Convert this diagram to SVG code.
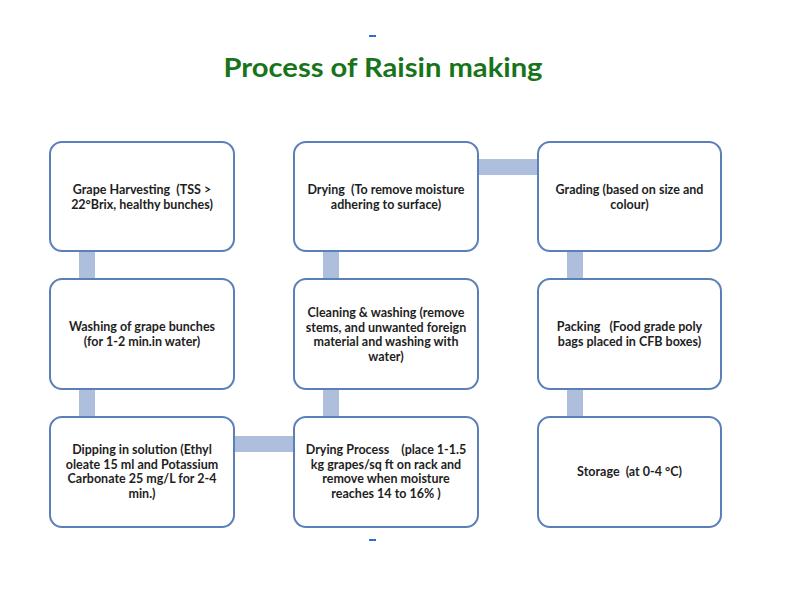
<svg xmlns="http://www.w3.org/2000/svg" width="800" height="600" viewBox="0 0 800 600">
<style>
.bar{fill:#adbfdd}
.box{fill:#ffffff;stroke:#5b80b8;stroke-width:2}
.t{font-family:Lato,"Liberation Sans",sans-serif;font-weight:bold;font-size:12.5px;fill:#1e1e1e;text-anchor:middle;white-space:pre}
.title{font-family:Lato,"Liberation Sans",sans-serif;font-weight:bold;font-size:27px;fill:#17741a;text-anchor:middle}
.dash{fill:#2f6fd0}
</style>
<rect width="800" height="600" fill="#ffffff"/>
<rect class="dash" x="369" y="35" width="7" height="2"/>
<rect class="dash" x="369" y="539" width="7" height="2"/>
<text class="title" x="383" y="77" textLength="319" lengthAdjust="spacingAndGlyphs">Process of Raisin making</text>
<g id="connectors">
<rect class="bar" x="79" y="250" width="16" height="30"/>
<rect class="bar" x="79" y="388" width="16" height="30"/>
<rect class="bar" x="233" y="436" width="62" height="16"/>
<rect class="bar" x="323" y="388" width="16" height="30"/>
<rect class="bar" x="323" y="250" width="16" height="30"/>
<rect class="bar" x="477" y="159" width="62" height="16"/>
<rect class="bar" x="567" y="250" width="16" height="30"/>
<rect class="bar" x="567" y="388" width="16" height="30"/>
</g>
<g id="n1"><rect class="box" x="50" y="142" width="184" height="109" rx="12"/>
<text class="t" x="142" y="194" xml:space="preserve">Grape Harvesting  (TSS &gt;</text><text class="t" x="142" y="208.5">22°Brix, healthy bunches)</text></g>
<g id="n2"><rect class="box" x="50" y="279" width="184" height="110" rx="12"/>
<text class="t" x="142" y="331">Washing of grape bunches</text><text class="t" x="142" y="345.5">(for 1-2 min.in water)</text></g>
<g id="n3"><rect class="box" x="50" y="417" width="184" height="110" rx="12"/>
<text class="t" x="142" y="454">Dipping in solution (Ethyl</text><text class="t" x="142" y="468.5">oleate 15 ml and Potassium</text><text class="t" x="142" y="483">Carbonate 25 mg/L for 2-4</text><text class="t" x="142" y="497.5">min.)</text></g>
<g id="n4"><rect class="box" x="294" y="417" width="184" height="110" rx="12"/>
<text class="t" x="386" y="454" xml:space="preserve">Drying Process    (place 1-1.5</text><text class="t" x="386" y="468.5">kg grapes/sq ft on rack and</text><text class="t" x="386" y="483">remove when moisture</text><text class="t" x="386" y="497.5">reaches 14 to 16% )</text></g>
<g id="n5"><rect class="box" x="294" y="279" width="184" height="110" rx="12"/>
<text class="t" x="386" y="317">Cleaning &amp; washing (remove</text><text class="t" x="386" y="331.5">stems, and unwanted foreign</text><text class="t" x="386" y="346">material and washing with</text><text class="t" x="386" y="360.5">water)</text></g>
<g id="n6"><rect class="box" x="294" y="142" width="184" height="109" rx="12"/>
<text class="t" x="386" y="194" xml:space="preserve">Drying  (To remove moisture</text><text class="t" x="386" y="208.5">adhering to surface)</text></g>
<g id="n7"><rect class="box" x="538" y="142" width="183" height="109" rx="12"/>
<text class="t" x="629.5" y="194">Grading (based on size and</text><text class="t" x="629.5" y="208.5">colour)</text></g>
<g id="n8"><rect class="box" x="538" y="279" width="183" height="110" rx="12"/>
<text class="t" x="629.5" y="331" xml:space="preserve">Packing   (Food grade poly</text><text class="t" x="629.5" y="345.5">bags placed in CFB boxes)</text></g>
<g id="n9"><rect class="box" x="538" y="417" width="183" height="110" rx="12"/>
<text class="t" x="629.5" y="476" xml:space="preserve">Storage  (at 0-4 °C)</text></g>
</svg>
